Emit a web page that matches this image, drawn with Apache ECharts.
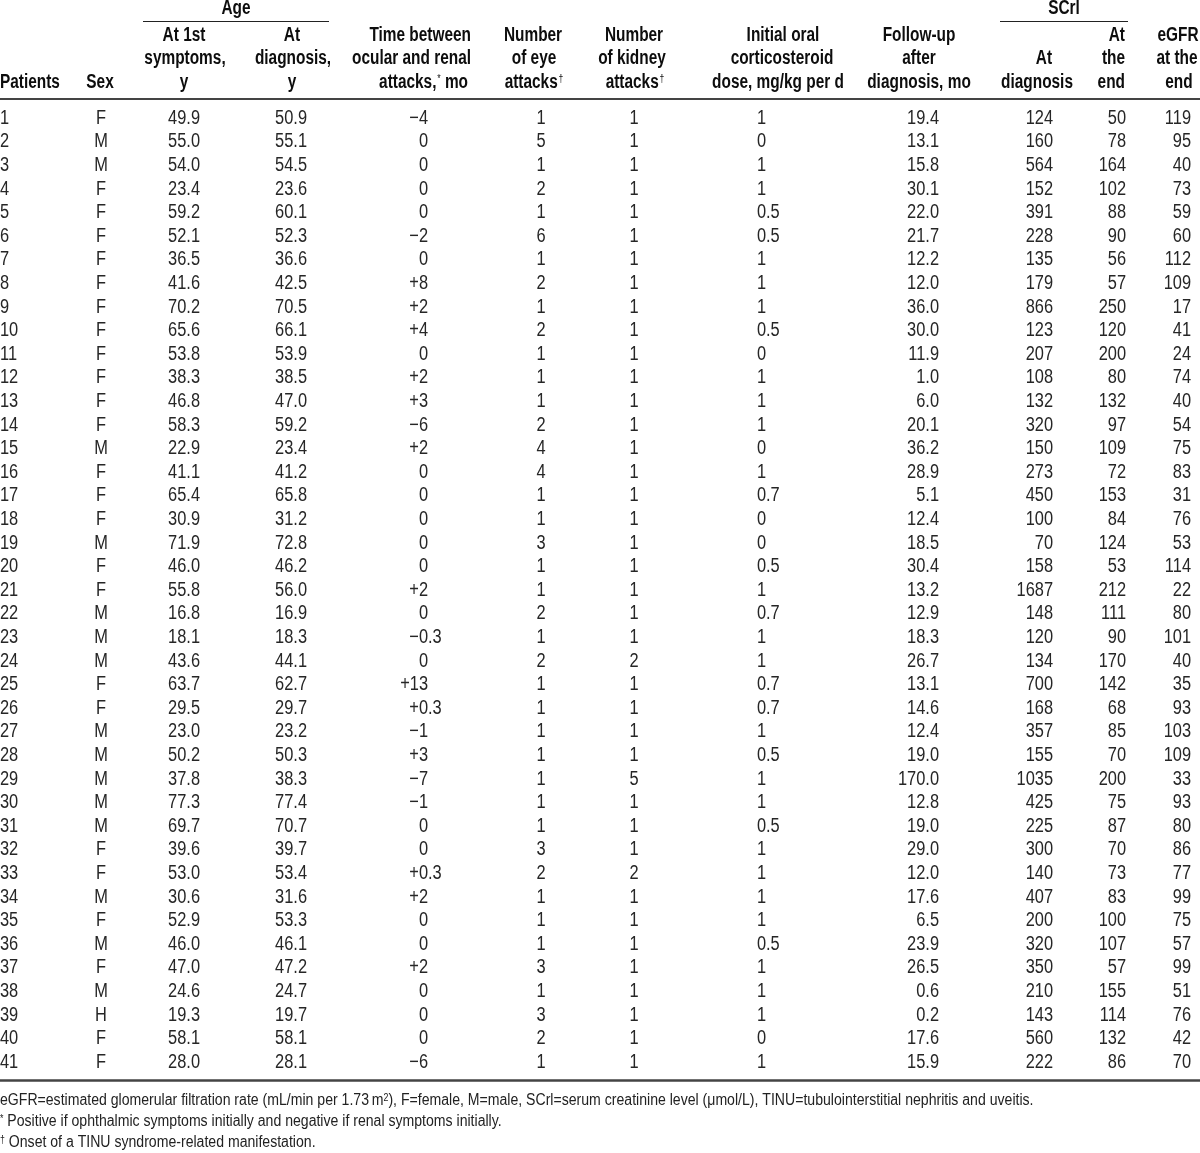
<!DOCTYPE html>
<html>
<head>
<meta charset="utf-8">
<script src="https://cdn.jsdelivr.net/npm/echarts@6/dist/echarts.min.js"></script>
<style>
html,body{margin:0;padding:0;background:#fff;}
#chart{width:1200px;height:1153px;}
</style>
</head>
<body>
<div id="chart"></div>
<script>
// ---------------- DATA ----------------
const patients = ['1','2','3','4','5','6','7','8','9','10','11','12','13','14','15','16','17','18','19','20','21','22','23','24','25','26','27','28','29','30','31','32','33','34','35','36','37','38','39','40','41'];
const sex = ['F','M','M','F','F','F','F','F','F','F','F','F','F','F','M','F','F','F','M','F','F','M','M','M','F','F','M','M','M','M','M','F','F','M','F','M','F','M','H','F','F'];
const ageAtSymptoms = [49.9,55.0,54.0,23.4,59.2,52.1,36.5,41.6,70.2,65.6,53.8,38.3,46.8,58.3,22.9,41.1,65.4,30.9,71.9,46.0,55.8,16.8,18.1,43.6,63.7,29.5,23.0,50.2,37.8,77.3,69.7,39.6,53.0,30.6,52.9,46.0,47.0,24.6,19.3,58.1,28.0];
const ageAtDiagnosis = [50.9,55.1,54.5,23.6,60.1,52.3,36.6,42.5,70.5,66.1,53.9,38.5,47.0,59.2,23.4,41.2,65.8,31.2,72.8,46.2,56.0,16.9,18.3,44.1,62.7,29.7,23.2,50.3,38.3,77.4,70.7,39.7,53.4,31.6,53.3,46.1,47.2,24.7,19.7,58.1,28.1];
const timeBetween = [-4,0,0,0,0,-2,0,8,2,4,0,2,3,-6,2,0,0,0,0,0,2,0,-0.3,0,13,0.3,-1,3,-7,-1,0,0,0.3,2,0,0,2,0,0,0,-6];
const eyeAttacks = [1,5,1,2,1,6,1,2,1,2,1,1,1,2,4,4,1,1,3,1,1,2,1,2,1,1,1,1,1,1,1,3,2,1,1,1,3,1,3,2,1];
const kidneyAttacks = [1,1,1,1,1,1,1,1,1,1,1,1,1,1,1,1,1,1,1,1,1,1,1,2,1,1,1,1,5,1,1,1,2,1,1,1,1,1,1,1,1];
const steroidDose = [1,0,1,1,0.5,0.5,1,1,1,0.5,0,1,1,1,0,1,0.7,0,0,0.5,1,0.7,1,1,0.7,0.7,1,0.5,1,1,0.5,1,1,1,1,0.5,1,1,1,0,1];
const followUp = [19.4,13.1,15.8,30.1,22.0,21.7,12.2,12.0,36.0,30.0,11.9,1.0,6.0,20.1,36.2,28.9,5.1,12.4,18.5,30.4,13.2,12.9,18.3,26.7,13.1,14.6,12.4,19.0,170.0,12.8,19.0,29.0,12.0,17.6,6.5,23.9,26.5,0.6,0.2,17.6,15.9];
const scrAtDiagnosis = [124,160,564,152,391,228,135,179,866,123,207,108,132,320,150,273,450,100,70,158,1687,148,120,134,700,168,357,155,1035,425,225,300,140,407,200,320,350,210,143,560,222];
const scrAtEnd = [50,78,164,102,88,90,56,57,250,120,200,80,132,97,109,72,153,84,124,53,212,111,90,170,142,68,85,70,200,75,87,70,73,83,100,107,57,155,114,132,86];
const egfrAtEnd = [119,95,40,73,59,60,112,109,17,41,24,74,40,54,75,83,31,76,53,114,22,80,101,40,35,93,103,109,33,93,80,86,77,99,75,57,99,51,76,42,70];

const footnotes = [
  'eGFR{eq|=}estimated glomerular filtration rate (mL/min per 1.73\u2009m{sup|2}), F{eq|=}female, M{eq|=}male, SCrl{eq|=}serum creatinine level (\u03bcmol/L), TINU{eq|=}tubulointerstitial nephritis and uveitis.',
  '{sup|*} Positive if ophthalmic symptoms initially and negative if renal symptoms initially.',
  '{sup|\u2020} Onset of a TINU syndrome-related manifestation.'
];

// ---------------- FORMATTING ----------------
const fmt1 = v => v.toFixed(1);
const fmtInt = v => String(v);
const fmtSigned = v => v > 0 ? '+' + v : (v < 0 ? '\u2212' + Math.abs(v) : '0');
const fmtPlain = v => String(v);

// ---------------- LAYOUT ----------------
const FONT = "'Liberation Sans',Arial,Helvetica,sans-serif";
const DATA_SIZE = 20, HEAD_SIZE = 19.5, NOTE_SIZE = 16;
const DATA_SX = 0.82, HEAD_SX = 0.79, NOTE_SX = 0.88;
const columns = [
  {values: patients, f: fmtPlain, x: 0, align: 'left'},
  {values: sex, f: fmtPlain, x: 101, align: 'center'},
  {values: ageAtSymptoms, f: fmt1, x: 200, align: 'right'},
  {values: ageAtDiagnosis, f: fmt1, x: 307, align: 'right'},
  {values: timeBetween, f: fmtSigned, x: 428, align: 'decimal'},
  {values: eyeAttacks, f: fmtInt, x: 541, align: 'center'},
  {values: kidneyAttacks, f: fmtInt, x: 634, align: 'center'},
  {values: steroidDose, f: fmtPlain, x: 766, align: 'decimal'},
  {values: followUp, f: fmt1, x: 939, align: 'right'},
  {values: scrAtDiagnosis, f: fmtInt, x: 1053, align: 'right'},
  {values: scrAtEnd, f: fmtInt, x: 1126, align: 'right'},
  {values: egfrAtEnd, f: fmtInt, x: 1191, align: 'right'}
];

const cells = [];
columns.forEach((c, ci) => {
  c.values.forEach((v, ri) => cells.push([ci, ri, c.f(v)]));
});

const chart = echarts.init(document.getElementById('chart'), null, {renderer: 'canvas'});

const ROW_TOP = 106.5, ROW_H = 23.6;
const gridBottom = 1153 - (ROW_TOP + ROW_H * patients.length);

function txt(text, x, y, align, opts) {
  opts = opts || {};
  return {
    type: 'text', silent: true, x: x, y: y, scaleX: opts.sx || HEAD_SX,
    style: {
      text: text, x: 0, y: 0,
      font: (opts.weight || 'bold') + ' ' + (opts.size || HEAD_SIZE) + 'px ' + FONT,
      textAlign: align, textVerticalAlign: 'middle',
      fill: opts.fill || '#0d0d0d',
      rich: opts.rich
    }
  };
}
const supRich = {
  sup: {fontSize: 11, fontFamily: FONT, fontWeight: 'normal', verticalAlign: 'top', padding: [0, 0, 0, 1]}
};
const L1 = 36, L2 = 59, L3 = 83;
const header = [
  txt('Age', 236, 9, 'center'),
  txt('SCrl', 1064, 9, 'center'),
  txt('Patients', 0, L3, 'left'),
  txt('Sex', 100, L3, 'center'),
  txt('At 1st', 184, L1, 'center'), txt('symptoms,', 185, L2, 'center'), txt('y', 184, L3, 'center'),
  txt('At', 292, L1, 'center'), txt('diagnosis,', 293, L2, 'center'), txt('y', 292, L3, 'center'),
  txt('Time between', 471, L1, 'right'), txt('ocular and renal', 471, L2, 'right'),
  txt('attacks,{sup|*} mo', 468, L3, 'right', {rich: supRich}),
  txt('Number', 533, L1, 'center'), txt('of eye', 534, L2, 'center'),
  txt('attacks{sup|\u2020}', 534, L3, 'center', {rich: supRich}),
  txt('Number', 634, L1, 'center'), txt('of kidney', 632, L2, 'center'),
  txt('attacks{sup|\u2020}', 635, L3, 'center', {rich: supRich}),
  txt('Initial oral', 783, L1, 'center'), txt('corticosteroid', 782, L2, 'center'),
  txt('dose, mg/kg per d', 778, L3, 'center'),
  txt('Follow-up', 919, L1, 'center'), txt('after', 919, L2, 'center'), txt('diagnosis, mo', 919, L3, 'center'),
  txt('At', 1044, L2, 'center'), txt('diagnosis', 1037, L3, 'center'),
  txt('At', 1125, L1, 'right'), txt('the', 1125, L2, 'right'), txt('end', 1125, L3, 'right'),
  txt('eGFR', 1178, L1, 'center'), txt('at the', 1177, L2, 'center'), txt('end', 1179, L3, 'center')
];
function rule(x1, x2, y, w, color) {
  return {type: 'line', silent: true, shape: {x1: x1, y1: y, x2: x2, y2: y},
    style: {stroke: color, lineWidth: w}};
}
const rules = [
  rule(143, 329, 21.5, 1, '#222'),
  rule(1000, 1128, 21.5, 1, '#222'),
  rule(0, 1200, 99, 2, '#444'),
  rule(0, 1200, 1080.5, 2.5, '#444')
];
const noteRich = {
  sup: {fontSize: 10, fontFamily: FONT, verticalAlign: 'top'},
  eq: {fontSize: NOTE_SIZE, fontFamily: FONT}
};
const notes = footnotes.map((t, i) => txt(t, 0, 1101 + i * 21, 'left',
  {weight: 'normal', size: NOTE_SIZE, fill: '#222', rich: noteRich, sx: NOTE_SX}));

chart.setOption({
  animation: false,
  grid: {left: 0, right: 0, top: ROW_TOP, bottom: gridBottom},
  xAxis: {type: 'value', min: 0, max: 1200, show: false},
  yAxis: {type: 'category', data: patients, inverse: true, show: false},
  graphic: {elements: header.concat(rules, notes)},
  series: [{
    type: 'custom',
    coordinateSystem: 'cartesian2d',
    encode: {x: 0, y: 1},
    clip: false,
    data: cells,
    renderItem: function (params, api) {
      const ci = api.value(0), ri = api.value(1);
      const s = cells[params.dataIndex][2];
      const col = columns[ci];
      const p = api.coord([col.x, ri]);
      const font = 'normal ' + DATA_SIZE + 'px ' + FONT;
      const base = {fill: '#262626', font: font, textVerticalAlign: 'middle', x: 0, y: 0};
      const mk = (t, align) => ({type: 'text', x: p[0], y: p[1], scaleX: DATA_SX,
        style: Object.assign({text: t, textAlign: align}, base)});
      if (col.align === 'decimal') {
        const k = s.indexOf('.');
        const ip = k < 0 ? s : s.slice(0, k), fp = k < 0 ? '' : s.slice(k);
        const kids = [mk(ip, 'right')];
        if (fp) kids.push(mk(fp, 'left'));
        return {type: 'group', children: kids};
      }
      return mk(s, col.align);
    }
  }]
});
</script>
</body>
</html>
